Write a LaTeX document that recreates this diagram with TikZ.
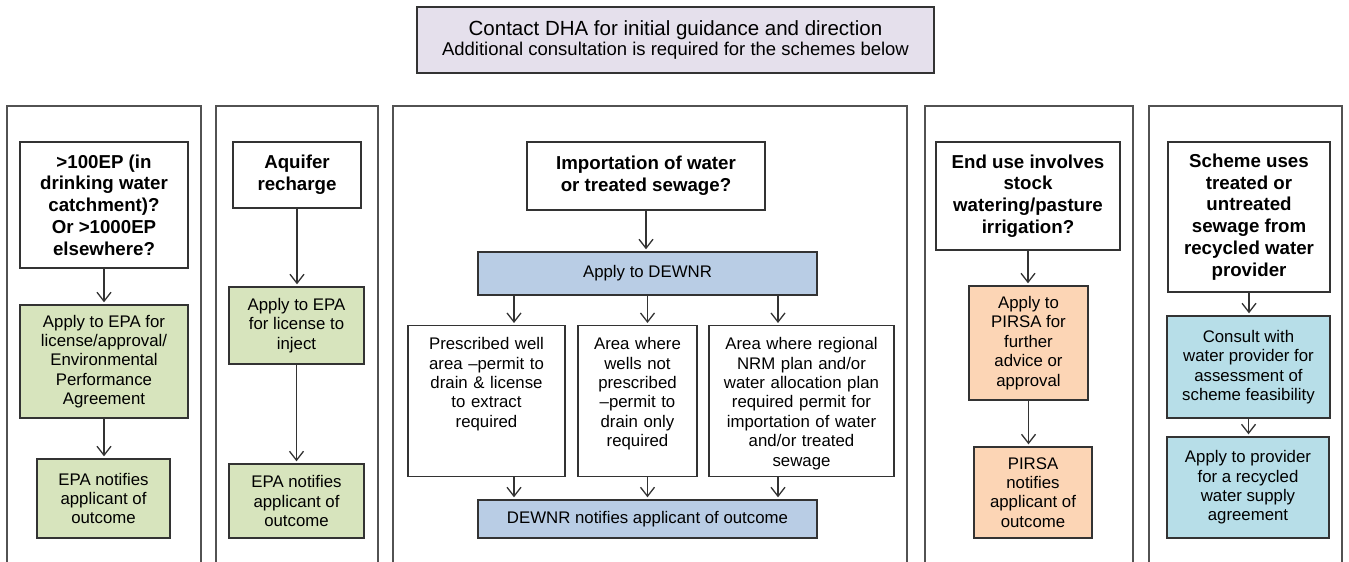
\documentclass[tikz,border=0pt]{standalone}
\usepackage{fontspec}
\setmainfont{Liberation Sans}
\usetikzlibrary{arrows.meta}
\definecolor{lavfill}{RGB}{229,224,236}
\definecolor{epagreen}{RGB}{215,228,189}
\definecolor{dewblue}{RGB}{185,205,229}
\definecolor{pirsaorange}{RGB}{252,213,181}
\definecolor{provcyan}{RGB}{183,222,232}
\definecolor{edge}{RGB}{51,51,51}

\begin{document}
\begin{tikzpicture}[x=1pt, y=-1pt,
  body/.style={font=\fontsize{16.8}{19.4}\selectfont},
  box/.style={draw=edge, line width=1.4pt, align=center, inner sep=0pt, body},
  qbox/.style={box, fill=white, font=\bfseries\fontsize{18.7}{21.7}\selectfont},
  epabox/.style={box, fill=epagreen},
  dewbox/.style={box, fill=dewblue},
  pirbox/.style={box, fill=pirsaorange},
  provbox/.style={box, fill=provcyan},
  areabox/.style={box, fill=white, anchor=north, minimum height=0pt,
    inner xsep=0pt, inner ysep=11.5pt, text height=12.5pt, text depth=115.5pt},
  panel/.style={draw=edge!85, line width=1.3pt},
  arr/.style={draw=edge, line width=1.3pt, -{Straight Barb[length=9pt,width=14pt]}, shorten >=2pt}]
\useasboundingbox (0,0) rectangle (1349,562);
% outer panels, open at the bottom
\draw[panel] (7,562) |- (201,106) -- (201,562);
\draw[panel] (216,562) |- (378,106) -- (378,562);
\draw[panel] (393,562) |- (907,106) -- (907,562);
\draw[panel] (925,562) |- (1133,106) -- (1133,562);
\draw[panel] (1149,562) |- (1342,106) -- (1342,562);

% heading
\node[box, fill=lavfill, minimum width=517pt, minimum height=66pt] (dha) at (675.5,40)
  {{\fontsize{20.5}{22}\selectfont Contact DHA for initial guidance and direction}\\
   {\fontsize{18.5}{20}\selectfont Additional consultation is required for the schemes below}};

% EP scheme
\node[qbox, minimum width=168pt, minimum height=126pt] (ep) at (104,205)
  {>100EP (in\\drinking water\\catchment)?\\Or >1000EP\\elsewhere?};
\node[epabox, minimum width=168pt, minimum height=113pt] (epapply) at (104,361.5)
  {Apply to EPA for\\license/approval/\\Environmental\\Performance\\Agreement};
\node[epabox, minimum width=133pt, minimum height=79pt] (epnote) at (103.5,498.5)
  {EPA notifies\\applicant of\\outcome};
\draw[arr] (ep.south) -- (ep.south |- epapply.north);
\draw[arr] (epapply.south) -- (epapply.south |- epnote.north);

% aquifer recharge
\node[qbox, minimum width=128pt, minimum height=66pt] (aq) at (297,175)
  {Aquifer\\recharge};
\node[epabox, minimum width=135pt, minimum height=77pt] (aqapply) at (296.5,325.5)
  {Apply to EPA\\for license to\\inject};
\node[epabox, minimum width=135pt, minimum height=74pt] (aqnote) at (296.5,501)
  {EPA notifies\\applicant of\\outcome};
\draw[arr] (aq.south) -- (aq.south |- aqapply.north);
\draw[arr] (aqapply.south) -- (aqapply.south |- aqnote.north);

% importation
\node[qbox, minimum width=238pt, minimum height=68pt] (imp) at (646,176)
  {Importation of water\\or treated sewage?};
\node[dewbox, minimum width=339pt, minimum height=43pt] (dew) at (647.5,273.5)
  {Apply to DEWNR};
\node[areabox, text width=157pt] (wella) at (486.5,325)
  {Prescribed well\\area --permit to\\drain \& license\\to extract\\required};
\node[areabox, text width=119pt] (wellb) at (637.5,325)
  {Area where\\wells not\\prescribed\\--permit to\\drain only\\required};
\node[areabox, text width=185pt] (nrm) at (801.5,325)
  {Area where regional\\NRM plan and/or\\water allocation plan\\required permit for\\importation of water\\and/or treated\\sewage};
\node[dewbox, minimum width=339pt, minimum height=38pt] (dewnote) at (647.5,519)
  {DEWNR notifies applicant of outcome};
\coordinate (lft) at (514,0);
\coordinate (mid) at (647.5,0);
\coordinate (rgt) at (778,0);
\draw[arr] (imp.south) -- (imp.south |- dew.north);
\foreach \c/\b in {lft/wella, mid/wellb, rgt/nrm} {
  \draw[arr] (dew.south -| \c) -- (\b.north -| \c);
  \draw[arr] (\b.south -| \c) -- (dewnote.north -| \c);
}

% stock watering
\node[qbox, minimum width=184pt, minimum height=108pt] (stock) at (1028,196)
  {End use involves\\stock\\watering/pasture\\irrigation?};
\node[pirbox, minimum width=119pt, minimum height=114pt] (pirapply) at (1028.5,343)
  {Apply to\\PIRSA for\\further\\advice or\\approval};
\node[pirbox, minimum width=118pt, minimum height=91pt] (pirnote) at (1033,492.5)
  {PIRSA\\notifies\\applicant of\\outcome};
\draw[arr] (stock.south) -- (stock.south |- pirapply.north);
\draw[arr] (pirapply.south) -- (pirapply.south |- pirnote.north);

% recycled water provider
\node[qbox, minimum width=162pt, minimum height=150pt] (rec) at (1249,217)
  {Scheme uses\\treated or\\untreated\\sewage from\\recycled water\\provider};
\node[provbox, minimum width=163pt, minimum height=102pt] (consult) at (1248.5,367)
  {Consult with\\water provider for\\assessment of\\scheme feasibility};
\node[provbox, minimum width=162pt, minimum height=101pt] (supply) at (1248,487.5)
  {Apply to provider\\for a recycled\\water supply\\agreement};
\draw[arr] (rec.south) -- (rec.south |- consult.north);
\draw[arr] (consult.south) -- (consult.south |- supply.north);
\end{tikzpicture}
\end{document}
